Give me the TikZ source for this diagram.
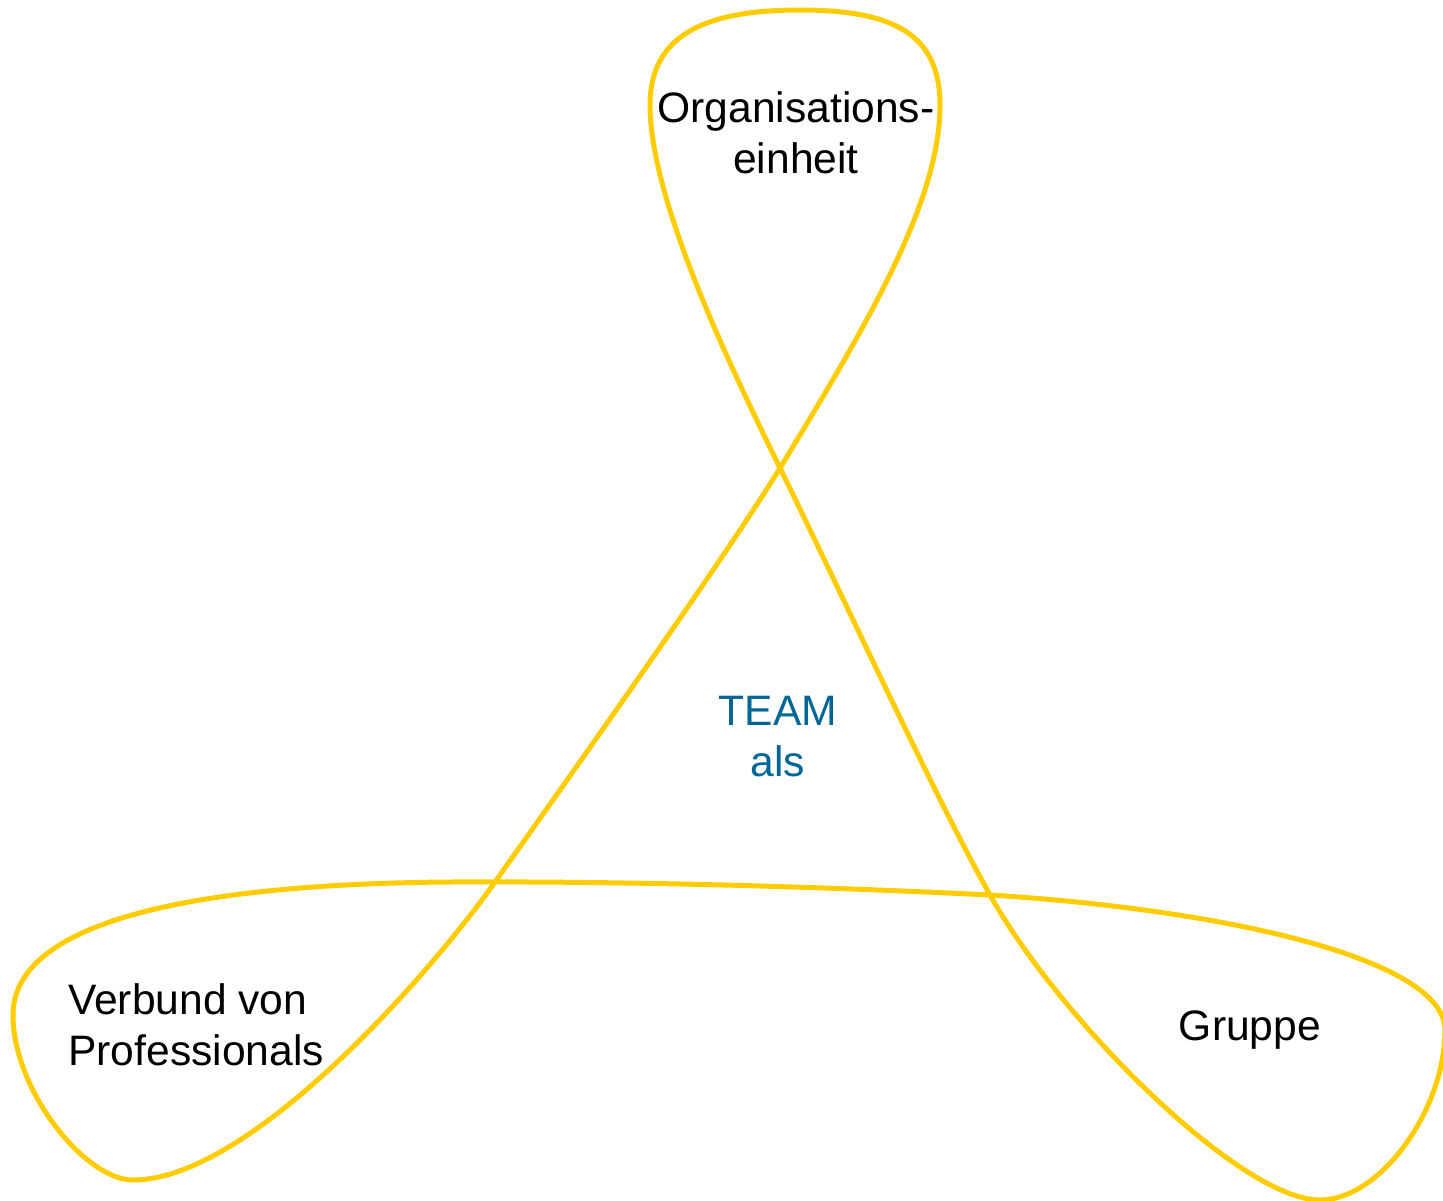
\documentclass[tikz,border=0pt]{standalone}
\usepackage{fontspec}
\setmainfont{Liberation Sans}
\usetikzlibrary{positioning}
\definecolor{loopyellow}{RGB}{255,204,0}
\definecolor{teamblue}{RGB}{0,102,150}

\begin{document}
\begin{tikzpicture}[x=1pt,y=-1pt,
	loopline/.style={draw=loopyellow,line width=5pt,line join=round},
	lobetext/.style={font=\fontsize{42.6}{51}\selectfont,inner sep=0pt},
	teamtext/.style={font=\fontsize{42.6}{51}\selectfont,text=teamblue,inner sep=0pt,align=center}
]
\useasboundingbox (0,0) rectangle (1443,1201);

% one closed loop with three lobes
\coordinate (top) at (800,10);
\coordinate (topright) at (940,105);
\coordinate (cross1) at (780,468);
\coordinate (cross2) at (495,882);
\coordinate (leftbot) at (133,1180);
\coordinate (leftmost) at (13,1015);
\coordinate (cross3) at (990,895);
\coordinate (rightmost) at (1445,1030);
\coordinate (rightbot) at (1320,1200);
\coordinate (topleft) at (650,105);

\draw[loopline] (top)
  .. controls (895,10) and (940,35) .. (topright)
  .. controls (940,200) and (870,320) .. (cross1)
  .. controls (727,555) and (560,790) .. (cross2)
  .. controls (430,974) and (250,1180) .. (leftbot)
  .. controls (85,1180) and (13,1090) .. (leftmost)
  .. controls (13,925) and (180,884) .. (450,882)
  .. controls (650,881) and (850,888) .. (cross3)
  .. controls (1230,910) and (1445,960) .. (rightmost)
  .. controls (1445,1110) and (1380,1200) .. (rightbot)
  .. controls (1240,1200) and (1060,1020) .. (cross3)
  .. controls (935,797) and (840,590) .. (cross1)
  .. controls (730,366) and (650,200) .. (topleft)
  .. controls (650,35) and (705,10) .. (top) -- cycle;

\node (org) [lobetext,align=center] at (796,133) {Organisations-\\einheit};
\node (team) [teamtext] at (778,737) {TEAM\\als};
\node (prof) [lobetext,align=left,anchor=west] at (68,1025) {Verbund von\\Professionals};
\node (grp) [lobetext] at (1250,1030) {Gruppe};
\end{tikzpicture}
\end{document}
